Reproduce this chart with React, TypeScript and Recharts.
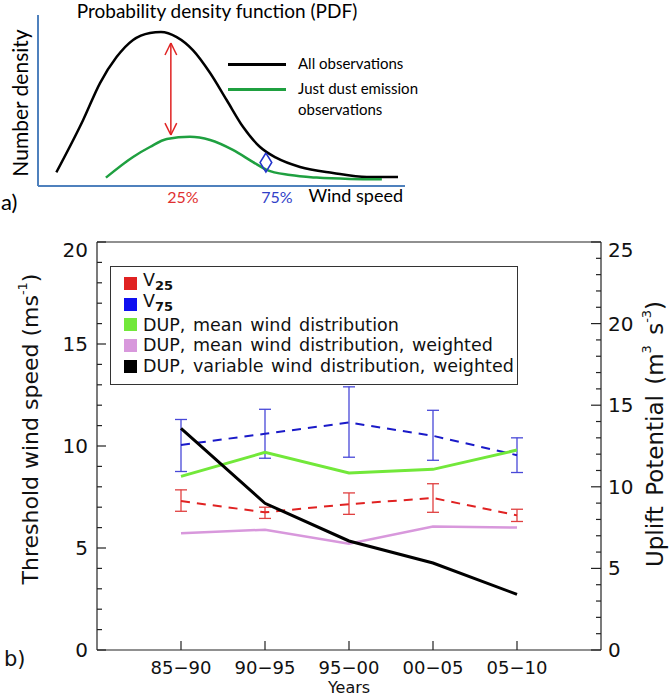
import React from 'react';
import { ErrorBar, Legend, Line, LineChart, ReferenceLine, XAxis, YAxis } from 'recharts';

// ---- panel a: schematic PDFs (wind speed and density in arbitrary units, 0-100)
const allObsX = [5, 12.3, 16.9, 21.4, 25.9, 30.5, 33.5, 37.8, 42.2, 46.9, 51.4, 55.9, 60.5, 65, 71.4, 80.4, 89.6, 98.1];
const allObsY = [8, 38.6, 60.2, 75.4, 85.4, 89.5, 90.1, 87.1, 79.5, 66.1, 50.3, 34.5, 22.8, 16.4, 11.1, 7.6, 5.3, 5.3];
const dustObsX = [18.5, 25.9, 30.5, 35.1, 41.4, 46.9, 53.1, 58.6, 62.3, 68.7, 75.9, 85, 93.7];
const dustObsY = [4.9, 17, 22.8, 27.5, 28.8, 26.9, 21.1, 14, 9.4, 6.4, 4.9, 4.1, 3.9];
const pdfSeriesNames = ['All observations', 'Just dust emission observations'];
const quantileTickX = [39.5, 65.1];
const quantileLabels = ['25%', '75%'];
const arrowX = 36.2;
const arrowY = [29.8, 83.6];
const diamondX = [62.1, 63.7, 62.1, 60.5, 62.1];
const diamondY = [19.3, 13.75, 8.2, 13.75, 19.3];

// ---- panel b: threshold wind speeds and uplift potential per period
const periods = ['85−90', '90−95', '95−00', '00−05', '05−10'];
const v25 = [7.3, 6.75, 7.15, 7.45, 6.6];
const v25Low = [6.8, 6.45, 6.65, 6.75, 6.3];
const v25High = [7.85, 7.0, 7.7, 8.15, 6.9];
const v75 = [10.05, 10.6, 11.15, 10.5, 9.55];
const v75Low = [8.75, 9.4, 9.45, 9.3, 8.7];
const v75High = [11.3, 11.8, 12.9, 11.75, 10.4];
const dupMean = [10.64, 12.11, 10.85, 11.07, 12.25];
const dupMeanWeighted = [7.15, 7.37, 6.51, 7.56, 7.5];
const dupVariableWeighted = [13.58, 8.99, 6.68, 5.33, 3.41];
const leftTicks = Array.from({ length: 21 }, (_, i) => i);
const rightTicks = Array.from({ length: 26 }, (_, i) => i);
const legendNames = ['V', 'V', 'DUP, mean wind distribution', 'DUP, mean wind distribution, weighted', 'DUP, variable wind distribution, weighted'];
const legendSubs = ['25', '75', '', '', ''];

const RED = '#e02222';
const BLUE = '#1a1ac8';
const GREEN = '#72e83a';
const PINK = '#d898dc';
const AXIS = '#222';
const OFFICE_BLUE = '#4f81bd';
const legendColors = [RED, '#1010f0', GREEN, PINK, '#000'];

const SANS = '"DejaVu Sans", sans-serif';
const CAL = 'Lato, "Open Sans", sans-serif';

const allObs = allObsX.map((x, i) => ({ x, y: allObsY[i] }));
const dustObs = dustObsX.map((x, i) => ({ x, y: dustObsY[i] }));
const diamond = diamondX.map((x, i) => ({ x, y: diamondY[i] }));

const rows = periods.map((p, i) => ({
  pos: i + 1,
  v25: v25[i],
  v25Err: [v25[i] - v25Low[i], v25High[i] - v25[i]],
  v75: v75[i],
  v75Err: [v75[i] - v75Low[i], v75High[i] - v75[i]],
  dupMean: dupMean[i],
  dupMeanWeighted: dupMeanWeighted[i],
  dupVariableWeighted: dupVariableWeighted[i],
}));

function QuantileTick({ x, y, payload, index }: any) {
  const color = index === 0 ? '#e03030' : '#3040c8';
  return (
    <text x={x} y={y + 17} textAnchor="middle" fontFamily={CAL} fontSize={16} fill={color}>
      {quantileLabels[index] ?? payload.value}
    </text>
  );
}

function PdfLegend() {
  const colors = ['#000', '#1fa040'];
  return (
    <div style={{ fontFamily: CAL, fontSize: 15, color: '#000', lineHeight: '21px' }}>
      {pdfSeriesNames.map((n, i) => (
        <div key={n} style={{ display: 'flex', alignItems: 'flex-start', marginBottom: 4 }}>
          <span style={{ display: 'inline-block', flexShrink: 0, width: 58, height: 3, background: colors[i], marginTop: 10, marginRight: 12 }} />
          <span style={{ width: 135 }}>{n}</span>
        </div>
      ))}
    </div>
  );
}

function PdfPanel() {
  return (
    <div style={{ position: 'absolute', left: 0, top: 0 }}>
      <LineChart width={410} height={215} margin={{ top: 15, right: 5, bottom: 0, left: 37 }}>
        <XAxis
          type="number"
          dataKey="x"
          domain={[0, 100]}
          ticks={quantileTickX}
          interval={0}
          height={29}
          axisLine={{ stroke: OFFICE_BLUE, strokeWidth: 2 }}
          tickLine={false}
          tickSize={0}
          tickMargin={0}
          tick={<QuantileTick />}
          label={{
            content: () => (
              <text x={403} y={202} textAnchor="end" fontFamily={CAL} fontSize={18} fill="#000">
                Wind speed
              </text>
            ),
          }}
        />
        <YAxis
          type="number"
          dataKey="y"
          domain={[0, 100]}
          width={1}
          tick={false}
          tickLine={false}
          axisLine={{ stroke: OFFICE_BLUE, strokeWidth: 2 }}
          label={{
            content: () => (
              <text x={19} y={103} transform="rotate(-90 19 103)" textAnchor="middle" dominantBaseline="central" fontFamily={CAL} fontSize={21} fill="#000">
                Number density
              </text>
            ),
          }}
        />
        <Line data={allObs} dataKey="y" type="monotone" stroke="#000" strokeWidth={2.5} dot={false} isAnimationActive={false} />
        <Line data={dustObs} dataKey="y" type="monotone" stroke="#1fa040" strokeWidth={2.5} dot={false} isAnimationActive={false} />
        <Line data={diamond} dataKey="y" type="linear" stroke="#2233cc" strokeWidth={1.5} dot={false} isAnimationActive={false} />
        <ReferenceLine segment={[{ x: arrowX, y: arrowY[0] }, { x: arrowX, y: arrowY[1] }]} stroke={RED} strokeWidth={1.5} />
        <ReferenceLine segment={[{ x: arrowX, y: arrowY[1] }, { x: arrowX - 1.6, y: arrowY[1] - 7 }]} stroke={RED} strokeWidth={1.5} />
        <ReferenceLine segment={[{ x: arrowX, y: arrowY[1] }, { x: arrowX + 1.6, y: arrowY[1] - 7 }]} stroke={RED} strokeWidth={1.5} />
        <ReferenceLine segment={[{ x: arrowX, y: arrowY[0] }, { x: arrowX - 1.6, y: arrowY[0] + 7 }]} stroke={RED} strokeWidth={1.5} />
        <ReferenceLine segment={[{ x: arrowX, y: arrowY[0] }, { x: arrowX + 1.6, y: arrowY[0] + 7 }]} stroke={RED} strokeWidth={1.5} />
        <Legend
          layout="vertical"
          align="center"
          verticalAlign="middle"
          content={<PdfLegend />}
          wrapperStyle={{ left: 228, top: 53, width: 200 }}
        />
      </LineChart>
    </div>
  );
}

function LeftTick({ x, y, payload }: any) {
  const v = payload.value;
  const major = v % 5 === 0;
  return (
    <g>
      <line x1={x} y1={y} x2={x + (major ? 9 : 5)} y2={y} stroke={AXIS} strokeWidth={1.2} />
      {major && (
        <text x={x - 9} y={v === 20 ? y + 15 : y + 7} textAnchor="end" fontFamily={SANS} fontSize={20} fill="#111">
          {v}
        </text>
      )}
    </g>
  );
}

function RightTick({ x, y, payload }: any) {
  const v = payload.value;
  const major = v % 5 === 0;
  return (
    <g>
      <line x1={x} y1={y} x2={x - (major ? 10 : 5)} y2={y} stroke={AXIS} strokeWidth={1.2} />
      {major && (
        <text x={x + 7} y={v === 25 ? y + 15 : y + 7} textAnchor="start" fontFamily={SANS} fontSize={20} fill="#111">
          {v}
        </text>
      )}
    </g>
  );
}

function PeriodTick({ x, y, payload }: any) {
  return (
    <g>
      <line x1={x} y1={y} x2={x} y2={y - 9} stroke={AXIS} strokeWidth={1.2} />
      <text x={x} y={y + 24} textAnchor="middle" fontFamily={SANS} fontSize={18} fill="#111">
        {periods[payload.value - 1]}
      </text>
    </g>
  );
}

function BoxLegend() {
  return (
    <div
      style={{
        width: 406,
        height: 111,
        border: '1px solid #333',
        background: '#fff',
        fontFamily: SANS,
        fontSize: 17.5,
        color: '#111',
        paddingTop: 6,
        boxSizing: 'content-box',
        wordSpacing: 2,
      }}
    >
      {legendNames.map((n, i) => (
        <div key={i} style={{ height: 20.7, display: 'flex', alignItems: 'center', paddingLeft: 13, whiteSpace: 'nowrap' }}>
          <span style={{ display: 'inline-block', flexShrink: 0, width: 13, height: 13, background: legendColors[i], marginRight: 6 }} />
          <span style={{ lineHeight: '20px' }}>
            {n}
            {legendSubs[i] && (
              <sub style={{ fontSize: 13, fontWeight: 'bold', verticalAlign: -4 }}>{legendSubs[i]}</sub>
            )}
          </span>
        </div>
      ))}
    </div>
  );
}

function TrendPanel() {
  return (
    <div style={{ position: 'absolute', left: 0, top: 230 }}>
      <LineChart width={669} height={466} data={rows} margin={{ top: 12, right: 8, bottom: 16, left: 37 }}>
        <XAxis
          type="number"
          dataKey="pos"
          domain={[0, 6]}
          ticks={[1, 2, 3, 4, 5]}
          interval={0}
          height={30}
          axisLine={{ stroke: AXIS, strokeWidth: 1.2 }}
          tickLine={false}
          tickSize={0}
          tickMargin={0}
          tick={<PeriodTick />}
          label={{
            content: () => (
              <text x={349} y={463} textAnchor="middle" fontFamily={SANS} fontSize={16} fill="#111">
                Years
              </text>
            ),
          }}
        />
        <YAxis
          yAxisId="left"
          type="number"
          domain={[0, 20]}
          ticks={leftTicks}
          interval={0}
          width={60}
          axisLine={{ stroke: AXIS, strokeWidth: 1.2 }}
          tickLine={false}
          tickSize={0}
          tickMargin={0}
          tick={<LeftTick />}
          label={{
            content: () => (
              <text x={30} y={199} transform="rotate(-90 30 199)" textAnchor="middle" dominantBaseline="central" fontFamily={SANS} fontSize={22} fill="#111">
                Threshold wind speed (ms<tspan dy={-8} fontSize={13}>-1</tspan>
                <tspan dy={8}>)</tspan>
              </text>
            ),
          }}
        />
        <YAxis
          yAxisId="right"
          orientation="right"
          type="number"
          domain={[0, 25]}
          ticks={rightTicks}
          interval={0}
          width={60}
          axisLine={{ stroke: AXIS, strokeWidth: 1.2 }}
          tickLine={false}
          tickSize={0}
          tickMargin={0}
          tick={<RightTick />}
          label={{
            content: () => (
              <text x={655} y={204} transform="rotate(-90 655 204)" textAnchor="middle" dominantBaseline="central" fontFamily={SANS} fontSize={23} fill="#111" wordSpacing={3}>
                Uplift Potential (m<tspan dy={-9} fontSize={13}>3</tspan>
                <tspan dy={9}> s</tspan>
                <tspan dy={-9} fontSize={13}>-3</tspan>
                <tspan dy={9}>)</tspan>
              </text>
            ),
          }}
        />
        <ReferenceLine yAxisId="left" y={20} stroke={AXIS} strokeWidth={1.2} />
        <Line yAxisId="left" dataKey="v75" type="linear" stroke={BLUE} strokeWidth={2} strokeDasharray="9 7" dot={false} isAnimationActive={false}>
          <ErrorBar dataKey="v75Err" direction="y" width={6} stroke="#4848d8" strokeWidth={1.3} />
        </Line>
        <Line yAxisId="left" dataKey="v25" type="linear" stroke={RED} strokeWidth={2} strokeDasharray="9 7" dot={false} isAnimationActive={false}>
          <ErrorBar dataKey="v25Err" direction="y" width={6} stroke="#e04040" strokeWidth={1.3} />
        </Line>
        <Line yAxisId="right" dataKey="dupMean" type="linear" stroke={GREEN} strokeWidth={3} dot={false} isAnimationActive={false} />
        <Line yAxisId="right" dataKey="dupMeanWeighted" type="linear" stroke={PINK} strokeWidth={2.5} dot={false} isAnimationActive={false} />
        <Line yAxisId="right" dataKey="dupVariableWeighted" type="linear" stroke="#000" strokeWidth={3} dot={false} isAnimationActive={false} />
        <Legend
          layout="vertical"
          align="center"
          verticalAlign="middle"
          content={<BoxLegend />}
          wrapperStyle={{ left: 110, top: 36, width: 408 }}
        />
      </LineChart>
    </div>
  );
}

export default function App() {
  return (
    <div style={{ position: 'absolute', left: 0, top: 0, width: 669, height: 696, background: '#fff', overflow: 'hidden' }}>
      <div style={{ position: 'absolute', left: 0, top: 0, width: 434, textAlign: 'center', fontFamily: CAL, fontSize: 19, lineHeight: '22px', color: '#000' }}>
        Probability density function (PDF)
      </div>
      <PdfPanel />
      <TrendPanel />
      <div style={{ position: 'absolute', left: 1, top: 191, fontFamily: CAL, fontSize: 22, lineHeight: '22px', color: '#000' }}>a)</div>
      <div style={{ position: 'absolute', left: 4, top: 648, fontFamily: SANS, fontSize: 21, lineHeight: '22px', color: '#111' }}>b)</div>
    </div>
  );
}
